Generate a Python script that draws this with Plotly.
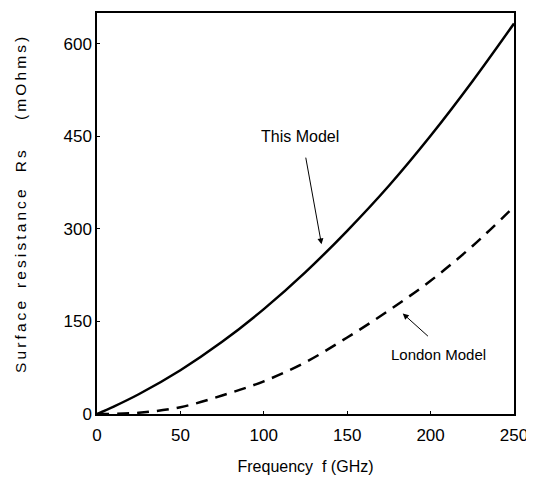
import plotly.graph_objects as go

# Data
freq_this = [0, 10, 25, 50, 75, 100, 125, 150, 175, 200, 225, 250]
rs_this = [0, 12, 32, 71, 117, 170, 230, 297, 370, 451, 539, 633]

freq_london = [0, 25, 50, 75, 100, 125, 150, 175, 200, 225, 250]
rs_london = [0, 2, 11, 30, 53, 84, 124, 168, 216, 272, 336]

x_ticks = [0, 50, 100, 150, 200, 250]
y_ticks = [0, 150, 300, 450, 600]

narrow = "Liberation Sans Narrow, Liberation Sans, Arial, sans-serif"


def spaced(word):
    return "\u2009".join(word)


y_title = ("&nbsp;" * 4 + spaced("Surface") + "&nbsp;" * 3 + spaced("resistance") + "&nbsp;" * 4
           + spaced("Rs") + "&nbsp;" * 7 + spaced("(mOhms)"))

fig = go.Figure()
fig.add_trace(go.Scatter(x=freq_this, y=rs_this, mode="lines",
                         line=dict(color="black", width=2.5, shape="spline"), showlegend=False))
fig.add_trace(go.Scatter(x=freq_london, y=rs_london, mode="lines",
                         line=dict(color="black", width=2.5, dash="12px,8px", shape="spline"), showlegend=False))

fig.add_annotation(x=134.6, y=275, ax=125, ay=418, axref="x", ayref="y", xref="x", yref="y",
                   text="", showarrow=True, arrowhead=2, arrowsize=1.2, arrowwidth=1, arrowcolor="black")
fig.add_annotation(x=121.5, y=450, xref="x", yref="y", text="This Model", showarrow=False,
                   font=dict(family=narrow, size=16, color="black"))
fig.add_annotation(x=183.3, y=163, ax=199.3, ay=124, axref="x", ayref="y", xref="x", yref="y",
                   text="", showarrow=True, arrowhead=2, arrowsize=1.2, arrowwidth=1, arrowcolor="black")
fig.add_annotation(x=204.7, y=97, xref="x", yref="y", text="London Model", showarrow=False,
                   font=dict(family=narrow, size=15, color="black"))

fig.update_layout(
    width=526, height=468,
    margin=dict(l=89, r=20, t=3, b=60),
    plot_bgcolor="white", paper_bgcolor="white",
    xaxis=dict(range=[0, 250], tickvals=x_ticks, showgrid=False, zeroline=False,
               showline=True, linecolor="black", linewidth=1.5, mirror=True,
               ticks="inside", ticklen=3, tickcolor="black", ticklabelstandoff=5,
               ticklabeloverflow="allow",
               tickfont=dict(family=narrow, size=17, color="black"),
               title=dict(text="Frequency&nbsp;&nbsp;f (GHz)", font=dict(family=narrow, size=16, color="black"),
                          standoff=17)),
    yaxis=dict(range=[0, 650], tickvals=y_ticks, showgrid=False, zeroline=False,
               showline=True, linecolor="black", linewidth=1.5, mirror=True,
               ticks="inside", ticklen=3, tickcolor="black",
               ticklabeloverflow="allow",
               tickfont=dict(family=narrow, size=17, color="black"),
               title=dict(text=y_title,
                          font=dict(family="Liberation Sans, Arial, sans-serif", size=15.5, color="black"),
                          standoff=33)),
)

fig.write_html("out.html")
